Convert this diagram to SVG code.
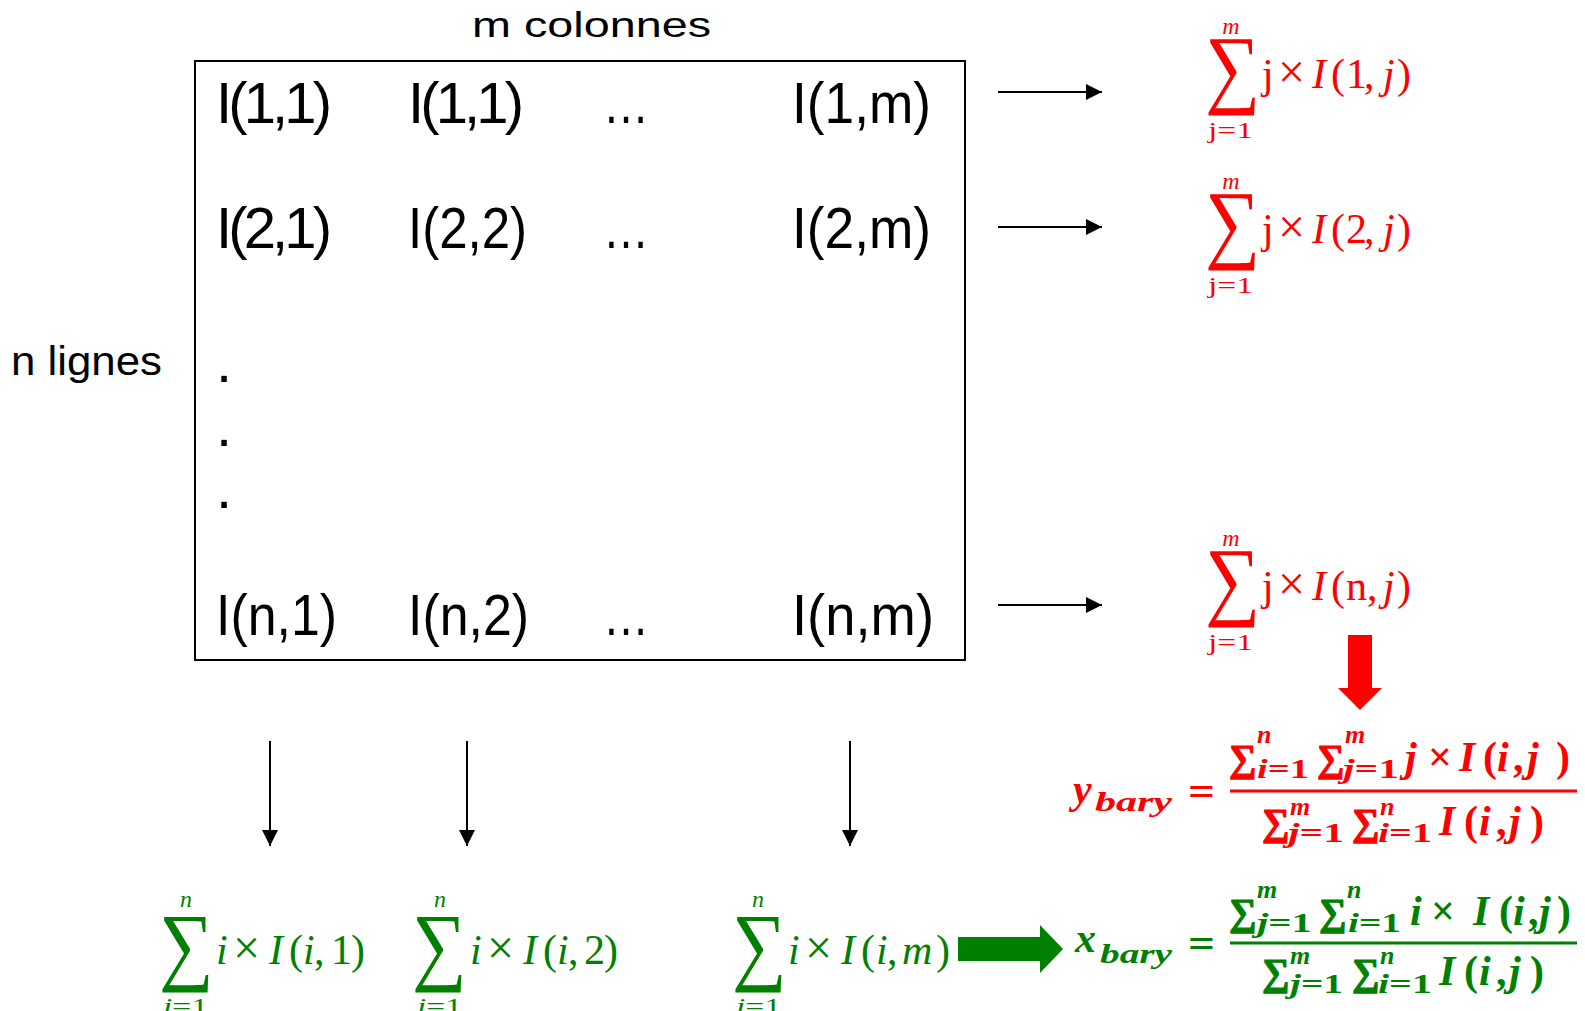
<svg xmlns="http://www.w3.org/2000/svg" width="1585" height="1011" viewBox="0 0 1585 1011">
<defs>
<style>
.lbl{font-family:"Liberation Sans","DejaVu Sans",sans-serif;fill:#000}
.cell{font-family:"Liberation Sans","DejaVu Sans",sans-serif;font-size:58px;fill:#000}
.m{font-family:"Liberation Serif","DejaVu Serif",serif}
.it{font-style:italic}
.red{fill:#FF0000}
.green{fill:#008000}
.bf{font-weight:bold}
.ln{stroke:#000;stroke-width:2;fill:none}
.sr{stroke:#FF0000;stroke-width:1.3}
.sg{stroke:#008000;stroke-width:1.3}
.x{font-size:48px}
</style>
<marker id="ah" markerUnits="userSpaceOnUse" markerWidth="16" markerHeight="16" viewBox="0 0 16 16" refX="16" refY="8" orient="auto">
<path d="M0,0 L16,8 L0,16 z" fill="#000"/>
</marker>
</defs>
<rect width="1585" height="1011" fill="#fff"/>

<g id="label-cols"><text class="lbl" x="472" y="37" font-size="35" textLength="239" lengthAdjust="spacingAndGlyphs">m colonnes</text></g>
<g id="label-rows"><text class="lbl" x="11" y="375" font-size="40" textLength="151" lengthAdjust="spacingAndGlyphs">n lignes</text></g>

<g id="matrix">
<rect x="195" y="61" width="770" height="599" class="ln"/>
<text class="cell" x="216" y="123" textLength="116" lengthAdjust="spacing">I(1,1)</text>
<text class="cell" x="408" y="123" textLength="116" lengthAdjust="spacing">I(1,1)</text>
<text class="cell" x="603" y="123" textLength="46" lengthAdjust="spacingAndGlyphs">…</text>
<text class="cell" x="792" y="123" textLength="139" lengthAdjust="spacingAndGlyphs">I(1,m)</text>
<text class="cell" x="216" y="248" textLength="116" lengthAdjust="spacing">I(2,1)</text>
<text class="cell" x="408" y="248" textLength="119" lengthAdjust="spacingAndGlyphs">I(2,2)</text>
<text class="cell" x="603" y="248" textLength="46" lengthAdjust="spacingAndGlyphs">…</text>
<text class="cell" x="792" y="248" textLength="139" lengthAdjust="spacingAndGlyphs">I(2,m)</text>
<text class="cell" x="216" y="382">.</text>
<text class="cell" x="216" y="446">.</text>
<text class="cell" x="216" y="508">.</text>
<text class="cell" x="216" y="635" textLength="121" lengthAdjust="spacingAndGlyphs">I(n,1)</text>
<text class="cell" x="408" y="635" textLength="121" lengthAdjust="spacingAndGlyphs">I(n,2)</text>
<text class="cell" x="603" y="635" textLength="46" lengthAdjust="spacingAndGlyphs">…</text>
<text class="cell" x="792" y="635" textLength="142" lengthAdjust="spacingAndGlyphs">I(n,m)</text>
</g>

<g id="connectors">
<line class="ln" x1="998" y1="92" x2="1102" y2="92" marker-end="url(#ah)"/>
<line class="ln" x1="998" y1="227" x2="1102" y2="227" marker-end="url(#ah)"/>
<line class="ln" x1="998" y1="605" x2="1102" y2="605" marker-end="url(#ah)"/>
<line class="ln" x1="270" y1="741" x2="270" y2="846" marker-end="url(#ah)"/>
<line class="ln" x1="467" y1="741" x2="467" y2="846" marker-end="url(#ah)"/>
<line class="ln" x1="850" y1="741" x2="850" y2="846" marker-end="url(#ah)"/>
<polygon points="1348,635 1372,635 1372,688 1382,688 1360,710 1338,688 1348,688" fill="#FF0000"/>
<polygon points="958,937 1040,937 1040,925 1063,949 1040,973 1040,961 958,961" fill="#008000"/>
</g>

<g id="sum-row-1" class="m red">
<text class="it" x="1231" y="34" font-size="24" text-anchor="middle">m</text>
<text transform="matrix(0.88 0 0 1 1205 97)" font-size="88">∑</text>
<text x="1208" y="138" font-size="24" textLength="45" lengthAdjust="spacingAndGlyphs">j=1</text>
<text y="88" font-size="42"><tspan x="1262">j</tspan><tspan x="1278" class="x">×</tspan><tspan x="1312" class="it">I</tspan><tspan x="1331">(</tspan><tspan x="1346">1</tspan><tspan x="1364">,</tspan><tspan x="1383" class="it">j</tspan><tspan x="1397">)</tspan></text>
</g>
<g id="sum-row-2" class="m red">
<text class="it" x="1231" y="189" font-size="24" text-anchor="middle">m</text>
<text transform="matrix(0.88 0 0 1 1205 252)" font-size="88">∑</text>
<text x="1208" y="293" font-size="24" textLength="45" lengthAdjust="spacingAndGlyphs">j=1</text>
<text y="243" font-size="42"><tspan x="1262">j</tspan><tspan x="1278" class="x">×</tspan><tspan x="1312" class="it">I</tspan><tspan x="1331">(</tspan><tspan x="1346">2</tspan><tspan x="1364">,</tspan><tspan x="1383" class="it">j</tspan><tspan x="1397">)</tspan></text>
</g>
<g id="sum-row-n" class="m red">
<text class="it" x="1231" y="546" font-size="24" text-anchor="middle">m</text>
<text transform="matrix(0.88 0 0 1 1205 609)" font-size="88">∑</text>
<text x="1208" y="650" font-size="24" textLength="45" lengthAdjust="spacingAndGlyphs">j=1</text>
<text y="600" font-size="42"><tspan x="1262">j</tspan><tspan x="1278" class="x">×</tspan><tspan x="1312" class="it">I</tspan><tspan x="1331">(</tspan><tspan x="1346">n</tspan><tspan x="1367">,</tspan><tspan x="1383" class="it">j</tspan><tspan x="1397">)</tspan></text>
</g>

<g id="sum-col-1" class="m green">
<text class="it" x="186" y="907" font-size="24" text-anchor="middle">n</text>
<text transform="matrix(0.88 0 0 1 159 974)" font-size="87">∑</text>
<text x="163" y="1014" font-size="24" textLength="45" lengthAdjust="spacingAndGlyphs"><tspan class="it">i</tspan>=1</text>
<text y="964" font-size="42"><tspan x="216" class="it">i</tspan><tspan x="233" class="x">×</tspan><tspan x="269" class="it">I</tspan><tspan x="289">(</tspan><tspan x="303" class="it">i</tspan><tspan x="314">,</tspan><tspan x="331">1</tspan><tspan x="351">)</tspan></text>
</g>
<g id="sum-col-2" class="m green">
<text class="it" x="440" y="907" font-size="24" text-anchor="middle">n</text>
<text transform="matrix(0.88 0 0 1 412 974)" font-size="87">∑</text>
<text x="417" y="1014" font-size="24" textLength="45" lengthAdjust="spacingAndGlyphs"><tspan class="it">i</tspan>=1</text>
<text y="964" font-size="42"><tspan x="470" class="it">i</tspan><tspan x="487" class="x">×</tspan><tspan x="523" class="it">I</tspan><tspan x="543">(</tspan><tspan x="557" class="it">i</tspan><tspan x="568">,</tspan><tspan x="584">2</tspan><tspan x="604">)</tspan></text>
</g>
<g id="sum-col-m" class="m green">
<text class="it" x="758" y="907" font-size="24" text-anchor="middle">n</text>
<text transform="matrix(0.88 0 0 1 732 974)" font-size="87">∑</text>
<text x="736" y="1014" font-size="24" textLength="45" lengthAdjust="spacingAndGlyphs"><tspan class="it">i</tspan>=1</text>
<text y="964" font-size="42"><tspan x="788" class="it">i</tspan><tspan x="805" class="x">×</tspan><tspan x="841" class="it">I</tspan><tspan x="861">(</tspan><tspan x="876" class="it">i</tspan><tspan x="887">,</tspan><tspan x="902" class="it">m</tspan><tspan x="936">)</tspan></text>
</g>

<g id="y-bary" class="m red bf">
<text class="it" x="1073" y="803" font-size="42">y</text>
<text class="it" x="1095" y="811" font-size="28" textLength="77" lengthAdjust="spacingAndGlyphs">bary</text>
<text x="1188" y="805" font-size="42" textLength="27" lengthAdjust="spacingAndGlyphs">=</text>
<rect x="1230" y="789.5" width="347" height="3" fill="#FF0000"/>
<text y="771" font-size="38" class="sr"><tspan x="1229">∑</tspan><tspan x="1317">∑</tspan></text>
<text y="771" font-size="42"><tspan x="1405" class="it">j</tspan><tspan x="1428">×</tspan><tspan x="1459" class="it">I</tspan><tspan x="1483">(</tspan><tspan x="1497" class="it">i</tspan><tspan x="1513">,</tspan><tspan x="1527" class="it">j</tspan><tspan x="1556">)</tspan></text>
<text y="743" font-size="26" class="it"><tspan x="1257">n</tspan><tspan x="1345">m</tspan></text>
<text x="1257" y="778" font-size="28" textLength="52" lengthAdjust="spacingAndGlyphs"><tspan class="it">i</tspan>=1</text>
<text x="1343" y="778" font-size="28" textLength="56" lengthAdjust="spacingAndGlyphs"><tspan class="it">j</tspan>=1</text>
<text y="835" font-size="38" class="sr"><tspan x="1262">∑</tspan><tspan x="1352">∑</tspan></text>
<text y="835" font-size="42"><tspan x="1439" class="it">I</tspan><tspan x="1464">(</tspan><tspan x="1479" class="it">i</tspan><tspan x="1496">,</tspan><tspan x="1509" class="it">j</tspan><tspan x="1530">)</tspan></text>
<text y="815" font-size="26" class="it"><tspan x="1290">m</tspan><tspan x="1380">n</tspan></text>
<text x="1288" y="842" font-size="28" textLength="56" lengthAdjust="spacingAndGlyphs"><tspan class="it">j</tspan>=1</text>
<text x="1378" y="842" font-size="28" textLength="54" lengthAdjust="spacingAndGlyphs"><tspan class="it">i</tspan>=1</text>
</g>

<g id="x-bary" class="m green bf">
<text class="it" x="1075" y="952" font-size="42">x</text>
<text class="it" x="1100" y="963" font-size="28" textLength="72" lengthAdjust="spacingAndGlyphs">bary</text>
<text x="1188" y="957" font-size="42" textLength="27" lengthAdjust="spacingAndGlyphs">=</text>
<rect x="1230" y="941.5" width="347" height="3" fill="#008000"/>
<text y="925" font-size="38" class="sg"><tspan x="1229">∑</tspan><tspan x="1319">∑</tspan></text>
<text y="925" font-size="42"><tspan x="1410" class="it">i</tspan><tspan x="1431">×</tspan><tspan x="1473" class="it">I</tspan><tspan x="1499">(</tspan><tspan x="1513" class="it">i</tspan><tspan x="1528">,</tspan><tspan x="1539" class="it">j</tspan><tspan x="1557">)</tspan></text>
<text y="898" font-size="26" class="it"><tspan x="1257">m</tspan><tspan x="1347">n</tspan></text>
<text x="1257" y="932" font-size="28" textLength="55" lengthAdjust="spacingAndGlyphs"><tspan class="it">j</tspan>=1</text>
<text x="1348" y="932" font-size="28" textLength="53" lengthAdjust="spacingAndGlyphs"><tspan class="it">i</tspan>=1</text>
<text y="985" font-size="38" class="sg"><tspan x="1262">∑</tspan><tspan x="1352">∑</tspan></text>
<text y="985" font-size="42"><tspan x="1439" class="it">I</tspan><tspan x="1464">(</tspan><tspan x="1479" class="it">i</tspan><tspan x="1496">,</tspan><tspan x="1509" class="it">j</tspan><tspan x="1530">)</tspan></text>
<text y="964" font-size="26" class="it"><tspan x="1290">m</tspan><tspan x="1380">n</tspan></text>
<text x="1290" y="993" font-size="28" textLength="53" lengthAdjust="spacingAndGlyphs"><tspan class="it">j</tspan>=1</text>
<text x="1378" y="993" font-size="28" textLength="54" lengthAdjust="spacingAndGlyphs"><tspan class="it">i</tspan>=1</text>
</g>
</svg>
